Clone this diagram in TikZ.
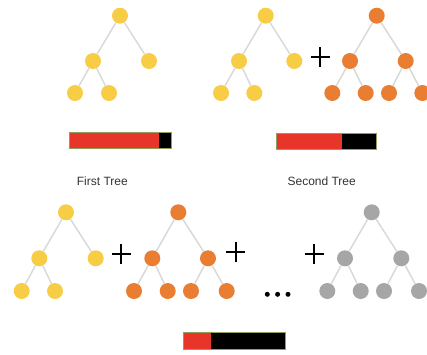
\documentclass[tikz,border=0pt]{standalone}
\usepackage{fontspec}
\setmainfont{Liberation Sans}
\definecolor{cyel}{HTML}{F8CD46}
\definecolor{corg}{HTML}{E97E32}
\definecolor{cgry}{HTML}{A6A6A6}
\definecolor{cedge}{HTML}{D9D9D9}
\definecolor{cred}{HTML}{E8352A}
\definecolor{cbord}{HTML}{8FA05C}
\begin{document}
\begin{tikzpicture}[x=1pt,y=-1pt,
  tnode/.style={circle,minimum size=16pt,inner sep=0pt},
  yel/.style={tnode,fill=cyel},
  org/.style={tnode,fill=corg},
  gry/.style={tnode,fill=cgry},
  edge/.style={draw=cedge,line width=1.5pt},
  plussign/.style={line width=2pt,black},
  lbl/.style={font=\fontsize{12pt}{14pt}\selectfont,text=black!80},
  dotn/.style={circle,fill=black,minimum size=5pt,inner sep=0pt}]
\useasboundingbox (0,0) rectangle (427,354);
\clip (0,0) rectangle (427,354);
% ---- Tree 1 (top left)
\node[yel] (a0) at (120,15.7) {};
\node[yel] (a1) at (93,61) {};
\node[yel] (a2) at (149,61) {};
\node[yel] (a3) at (75,93) {};
\node[yel] (a4) at (109,93) {};
% ---- Tree 2 yellow (top right)
\node[yel] (b0) at (265.7,15.7) {};
\node[yel] (b1) at (239,61) {};
\node[yel] (b2) at (294.3,61) {};
\node[yel] (b3) at (221,93) {};
\node[yel] (b4) at (254.3,93) {};
% ---- Tree 2 orange (top right)
\node[org] (c0) at (376.7,15.7) {};
\node[org] (c1) at (350,61) {};
\node[org] (c2) at (405.7,61) {};
\node[org] (c3) at (332.3,93) {};
\node[org] (c4) at (365.7,93) {};
\node[org] (c5) at (389,93) {};
\node[org] (c6) at (422.3,93) {};
% ---- bottom yellow
\node[yel] (d0) at (66,212.3) {};
\node[yel] (d1) at (39.3,258.3) {};
\node[yel] (d2) at (95.7,258.3) {};
\node[yel] (d3) at (21.7,291) {};
\node[yel] (d4) at (55,291) {};
% ---- bottom orange
\node[org] (e0) at (178.3,212.3) {};
\node[org] (e1) at (152.3,258.3) {};
\node[org] (e2) at (208,258.3) {};
\node[org] (e3) at (134,291) {};
\node[org] (e4) at (167.7,291) {};
\node[org] (e5) at (191,291) {};
\node[org] (e6) at (226.7,291) {};
% ---- bottom gray
\node[gry] (f0) at (371.7,212.3) {};
\node[gry] (f1) at (345,258.3) {};
\node[gry] (f2) at (401.3,258.3) {};
\node[gry] (f3) at (327.3,291) {};
\node[gry] (f4) at (360.7,291) {};
\node[gry] (f5) at (384,291) {};
\node[gry] (f6) at (419,291) {};
% ---- edges
\begin{scope}[on background layer/.style={}]
\foreach \t in {a,b,d}{
  \draw[edge] (\t0) -- (\t1);
  \draw[edge] (\t0) -- (\t2);
  \draw[edge] (\t1) -- (\t3);
  \draw[edge] (\t1) -- (\t4);
}
\foreach \t in {c,e,f}{
  \draw[edge] (\t0) -- (\t1);
  \draw[edge] (\t0) -- (\t2);
  \draw[edge] (\t1) -- (\t3);
  \draw[edge] (\t1) -- (\t4);
  \draw[edge] (\t2) -- (\t5);
  \draw[edge] (\t2) -- (\t6);
}
\end{scope}
% ---- plus signs
\foreach \n/\px/\py in {p1/320/57,p2/121/254,p3/235.7/252.3,p4/314/254}{
  \coordinate (\n) at (\px,\py);
  \draw[plussign] ([xshift=-9.5pt]\n) -- ([xshift=9.5pt]\n);
  \draw[plussign] ([yshift=-10pt]\n) -- ([yshift=10pt]\n);
}
% ---- dots
\node[dotn] (g1) at (267.3,294.3) {};
\node[dotn] (g2) at (277.6,294.3) {};
\node[dotn] (g3) at (288,294.3) {};
% ---- bars
\fill[cred] (69.3,132.3) rectangle (159.3,148.3);
\fill[black] (159.3,132.3) rectangle (171.7,148.3);
\draw[cbord,line width=0.6pt] (69.3,132.3) rectangle (171.7,148.3);
\fill[cred] (276,133.3) rectangle (341.7,149.7);
\fill[black] (341.7,133.3) rectangle (376.7,149.7);
\draw[cbord,line width=0.6pt] (276,133.3) rectangle (376.7,149.7);
\fill[cred] (183.3,332.3) rectangle (211,349);
\fill[black] (211,332.3) rectangle (285,349);
\draw[cbord,line width=0.6pt] (183.3,332.3) rectangle (285,349);
% ---- labels
\node[lbl] (l1) at (102.3,181) {First Tree};
\node[lbl] (l2) at (321.7,181) {Second Tree};
\end{tikzpicture}
\end{document}
